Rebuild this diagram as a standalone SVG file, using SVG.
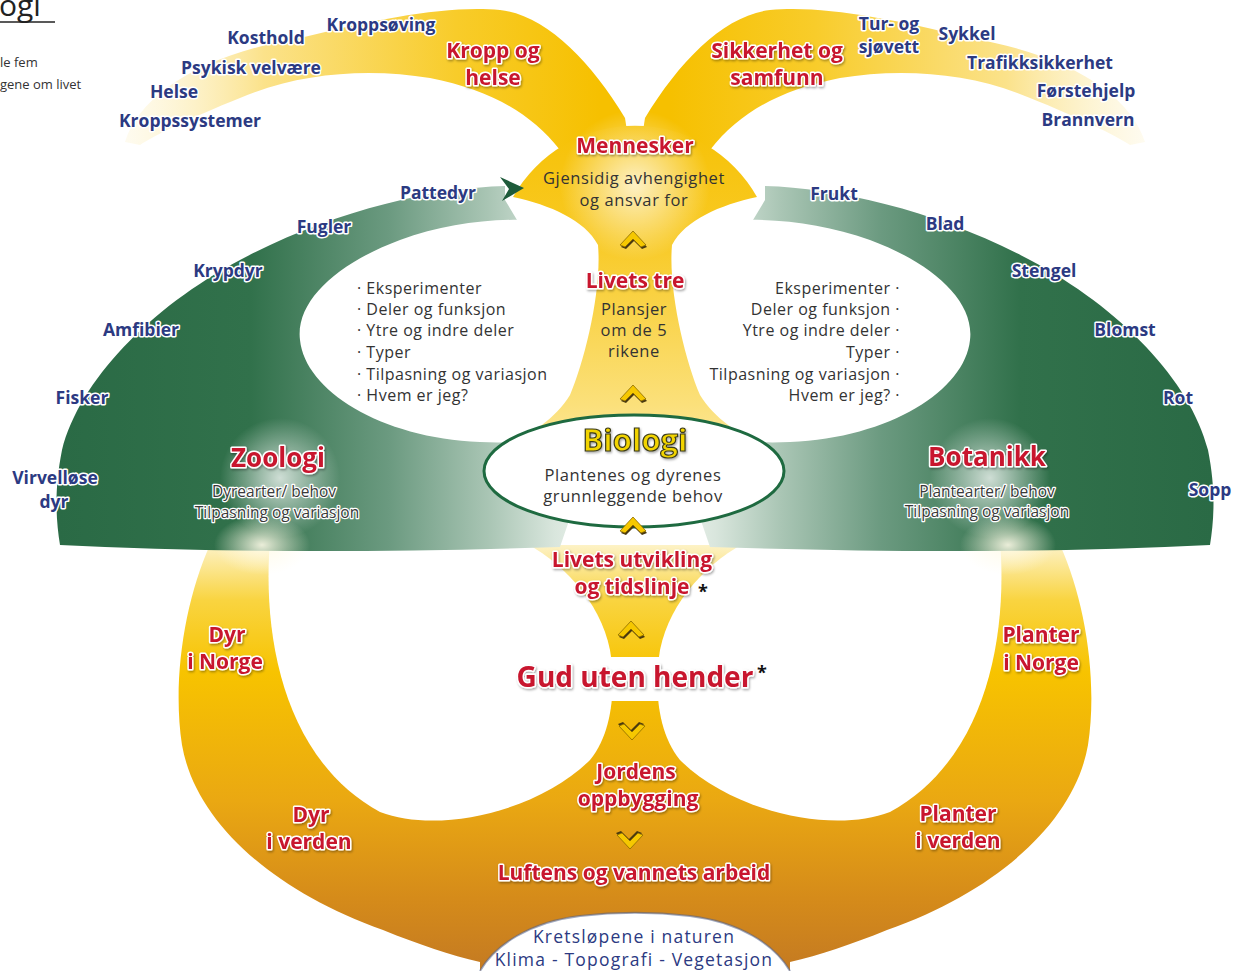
<svg xmlns="http://www.w3.org/2000/svg" xmlns:xlink="http://www.w3.org/1999/xlink" width="1235" height="971" viewBox="0 0 1235 971">
<defs>
<style>
text{font-family:"Open Sans","Noto Sans",sans-serif}
.blue{fill:#2c3a82;font-weight:bold;font-size:17.5px;text-anchor:middle;stroke:#fff;stroke-width:3;paint-order:stroke;stroke-linejoin:round}
.red{fill:#c8162e;font-weight:bold;font-size:21px;text-anchor:middle;stroke:#fff;stroke-width:3;paint-order:stroke;stroke-linejoin:round;filter:url(#sh)}
.sub{fill:#333;font-size:16.5px;letter-spacing:0.6px;text-anchor:middle}
.emb{fill:#3a3a3a;font-size:15.5px;text-anchor:middle;stroke:#fff;stroke-width:2.5;paint-order:stroke;stroke-linejoin:round}
.list{fill:#333;font-size:16px;letter-spacing:0.5px}
.nav{fill:#2c3a82;font-size:17.5px;letter-spacing:1.2px;text-anchor:middle}
.ast{fill:#111;font-weight:bold;font-size:18px}
</style>
<filter id="sh" x="-10%" y="-20%" width="130%" height="160%"><feDropShadow dx="1" dy="1.5" stdDeviation="1" flood-color="#000" flood-opacity="0.35"/></filter>
<linearGradient id="arcG" gradientUnits="userSpaceOnUse" x1="120" y1="0" x2="600" y2="0">
<stop offset="0" stop-color="#fdf4d2" stop-opacity="0.3"/><stop offset="0.3" stop-color="#fbe28a"/><stop offset="0.7" stop-color="#f8cc2a"/><stop offset="1" stop-color="#f6c000"/></linearGradient>
<linearGradient id="grnG" gradientUnits="userSpaceOnUse" x1="57" y1="0" x2="610" y2="0">
<stop offset="0" stop-color="#2a6a45"/><stop offset="0.35" stop-color="#31714b"/><stop offset="0.6" stop-color="#6b9a80"/><stop offset="0.78" stop-color="#a9c5b4"/><stop offset="0.9" stop-color="#d9e6dd"/><stop offset="1" stop-color="#f3f7f3"/></linearGradient>
<linearGradient id="botG" gradientUnits="userSpaceOnUse" x1="0" y1="545" x2="0" y2="971">
<stop offset="0" stop-color="#fdf2c6"/><stop offset="0.13" stop-color="#f9d440"/><stop offset="0.3" stop-color="#f7c300"/><stop offset="0.6" stop-color="#eaa812"/><stop offset="0.83" stop-color="#d58b1a"/><stop offset="1" stop-color="#c47a22"/></linearGradient>
<linearGradient id="colG" gradientUnits="userSpaceOnUse" x1="0" y1="100" x2="0" y2="480">
<stop offset="0" stop-color="#f6c000"/><stop offset="0.35" stop-color="#f8c922"/><stop offset="0.8" stop-color="#fbe07a"/><stop offset="1" stop-color="#fcecb0"/></linearGradient>
<radialGradient id="glow"><stop offset="0" stop-color="#fff" stop-opacity="0.75"/><stop offset="1" stop-color="#fff" stop-opacity="0"/></radialGradient>
<radialGradient id="glowY"><stop offset="0" stop-color="#fffbe8" stop-opacity="0.9"/><stop offset="1" stop-color="#fffbe8" stop-opacity="0"/></radialGradient>
<path id="arcL" d="M125,142 C140,95 200,55 300,38 C380,18 450,5 500,10 C545,15 590,60 625,118 L630,150 L560,150 C530,112 490,90 430,78 C370,68 300,72 240,98 C190,118 155,135 140,145 Z"/>
<path id="grnL" d="M505,186 C430,188 330,212 240,260 C150,308 80,380 62,450 C54,490 56,520 60,545 Q280,556 560,547 L600,430 L600,300 L520,225 L505,200 Z"/>
<path id="whtL" d="M615,230 C540,215 470,215 400,240 C340,262 295,300 300,340 C305,390 380,438 480,442 C550,445 600,430 615,410 Z"/>
<path id="intL" d="M270,540 C262,640 285,760 380,812 C440,835 540,810 590,760 C615,730 615,680 610,650 C600,600 560,560 520,540 Z"/>
<g id="chev"><path d="M-13,7 L0,-7 L13,7 L8,9 L0,1 L-8,9 Z" fill="#4a3a10" transform="translate(1,2)"/><path d="M-13,7 L0,-7 L13,7 L8,9 L0,1 L-8,9 Z" fill="#f6c800" stroke="#8a6a00" stroke-width="0.8"/></g>
</defs>
<rect width="1235" height="971" fill="#fff"/>
<g id="shapes">
<use href="#arcL" fill="url(#arcG)"/>
<use href="#arcL" fill="url(#arcG)" transform="translate(1270,0) scale(-1,1)"/>
<path d="M210,545 C185,600 172,680 182,745 C195,820 270,890 383,930 C420,945 450,955 480,962 L480,971 L790,971 L790,962 C820,955 850,945 887,930 C1000,890 1075,820 1088,745 C1098,680 1085,600 1060,545 Z" fill="url(#botG)"/>
<use href="#intL" fill="#fff"/>
<use href="#intL" fill="#fff" transform="translate(1270,0) scale(-1,1)"/>
<rect x="598" y="657" width="74" height="44" fill="#fff"/>
<use href="#grnL" fill="url(#grnG)"/>
<use href="#grnL" fill="url(#grnG)" transform="translate(1270,0) scale(-1,1)"/>
<use href="#whtL" fill="#fff"/>
<use href="#whtL" fill="#fff" transform="translate(1270,0) scale(-1,1)"/>
<path d="M513,197 A140,140 0 0 1 757,197 C720,205 685,220 672,245 C668,290 685,360 700,395 C715,420 740,432 755,445 L755,480 L515,480 L515,445 C530,432 555,420 570,395 C585,360 602,290 598,245 C585,220 550,205 513,197 Z" fill="url(#colG)"/>
<circle cx="635" cy="185" r="75" fill="url(#glow)"/>
<circle cx="280" cy="478" r="60" fill="url(#glow)"/>
<circle cx="990" cy="478" r="60" fill="url(#glow)"/>
<ellipse cx="262" cy="545" rx="48" ry="30" fill="url(#glowY)"/>
<ellipse cx="1008" cy="545" rx="48" ry="30" fill="url(#glowY)"/>
<path d="M480,971 C495,945 530,922 580,916 C615,912 655,912 690,916 C740,922 775,945 790,971 Z" fill="#fff"/>
<path d="M480,971 C495,945 530,922 580,916 C615,912 655,912 690,916 C740,922 775,945 790,971" fill="none" stroke="#50628f" stroke-width="2" stroke-opacity="0.55"/>
</g>
<g id="title">
<text x="-1" y="16" style="font-size:30px;fill:#222">ogi</text>
<line x1="0" y1="22" x2="55" y2="22" stroke="#222" stroke-width="1.5"/>
<text x="0" y="67" style="font-size:13px;fill:#333">le fem</text>
<text x="0" y="89" style="font-size:13px;fill:#333">gene om livet</text>
</g>
<g id="kropp-og-helse">
<text class="red" x="493" y="58">Kropp og</text><text class="red" x="493" y="85">helse</text>
<text class="blue" x="266" y="44">Kosthold</text>
<text class="blue" x="381" y="31">Kroppsøving</text>
<text class="blue" x="251" y="74">Psykisk velvære</text>
<text class="blue" x="174" y="98">Helse</text>
<text class="blue" x="190" y="127">Kroppssystemer</text>
</g>
<g id="sikkerhet-og-samfunn">
<text class="red" x="777" y="58">Sikkerhet og</text><text class="red" x="777" y="85">samfunn</text>
<text class="blue" x="889" y="30">Tur- og</text><text class="blue" x="889" y="53">sjøvett</text>
<text class="blue" x="967" y="40">Sykkel</text>
<text class="blue" x="1040" y="69">Trafikksikkerhet</text>
<text class="blue" x="1086" y="97">Førstehjelp</text>
<text class="blue" x="1088" y="126">Brannvern</text>
</g>
<g id="mennesker">
<text class="red" x="635" y="153">Mennesker</text>
<text class="sub" x="634" y="184">Gjensidig avhengighet</text>
<text class="sub" x="634" y="206">og ansvar for</text>
</g>
<g id="livets-tre">
<text class="red" x="635" y="288">Livets tre</text>
<text class="sub" x="634" y="315">Plansjer</text>
<text class="sub" x="634" y="336">om de 5</text>
<text class="sub" x="634" y="357">rikene</text>
</g>
<g id="zoologi">
<text class="red" x="278" y="467" style="font-size:26px">Zoologi</text>
<text class="emb" x="274" y="497">Dyrearter/ behov</text>
<text class="emb" x="277" y="518">Tilpasning og variasjon</text>
<text class="blue" x="438" y="199">Pattedyr</text>
<text class="blue" x="324" y="233">Fugler</text>
<text class="blue" x="228" y="277">Krypdyr</text>
<text class="blue" x="141" y="336">Amfibier</text>
<text class="blue" x="82" y="404">Fisker</text>
<text class="blue" x="55" y="484">Virvelløse</text>
<text class="blue" x="54" y="508">dyr</text>
<g class="list">
<text x="357" y="294">· Eksperimenter</text>
<text x="357" y="315">· Deler og funksjon</text>
<text x="357" y="336">· Ytre og indre deler</text>
<text x="357" y="358">· Typer</text>
<text x="357" y="380">· Tilpasning og variasjon</text>
<text x="357" y="401">· Hvem er jeg?</text>
</g>
</g>
<g id="botanikk">
<text class="red" x="987" y="466" style="font-size:26px">Botanikk</text>
<text class="emb" x="987" y="497">Plantearter/ behov</text>
<text class="emb" x="987" y="517">Tilpasning og variasjon</text>
<text class="blue" x="834" y="200">Frukt</text>
<text class="blue" x="945" y="230">Blad</text>
<text class="blue" x="1044" y="277">Stengel</text>
<text class="blue" x="1125" y="336">Blomst</text>
<text class="blue" x="1178" y="404">Rot</text>
<text class="blue" x="1210" y="496">Sopp</text>
<g class="list" style="text-anchor:end">
<text x="900" y="294">Eksperimenter ·</text>
<text x="900" y="315">Deler og funksjon ·</text>
<text x="900" y="336">Ytre og indre deler ·</text>
<text x="900" y="358">Typer ·</text>
<text x="900" y="380">Tilpasning og variasjon ·</text>
<text x="900" y="401">Hvem er jeg? ·</text>
</g>
</g>
<g id="biologi">
<ellipse cx="634" cy="471" rx="150" ry="56" fill="#fff" stroke="#1e6a40" stroke-width="3"/>
<text x="635" y="451" style="font-size:31px;font-weight:bold;fill:#f2d400;stroke:#3a3a1a;stroke-width:1.2;text-anchor:middle;filter:url(#sh)">Biologi</text>
<text class="sub" x="633" y="481">Plantenes og dyrenes</text>
<text class="sub" x="633" y="502">grunnleggende behov</text>
</g>
<g id="livets-utvikling">
<text class="red" x="632" y="567">Livets utvikling</text>
<text class="red" x="632" y="594">og tidslinje</text>
<text class="ast" x="698" y="598">*</text>
</g>
<g id="gud-uten-hender">
<text class="red" x="635" y="687" style="font-size:28px">Gud uten hender</text>
<text class="ast" x="757" y="679">*</text>
</g>
<g id="jordens-oppbygging">
<text class="red" x="636" y="779">Jordens</text>
<text class="red" x="638" y="806">oppbygging</text>
</g>
<g id="luftens-og-vannets-arbeid">
<text class="red" x="634" y="880">Luftens og vannets arbeid</text>
</g>
<g id="kretslopene">
<text class="nav" x="634" y="943">Kretsløpene i naturen</text>
<text class="nav" x="634" y="966">Klima - Topografi - Vegetasjon</text>
</g>
<g id="dyr-ring">
<text class="red" x="227" y="642">Dyr</text><text class="red" x="225" y="669">i Norge</text>
<text class="red" x="311" y="822">Dyr</text><text class="red" x="309" y="849">i verden</text>
</g>
<g id="planter-ring">
<text class="red" x="1041" y="642">Planter</text><text class="red" x="1041" y="670">i Norge</text>
<text class="red" x="958" y="821">Planter</text><text class="red" x="958" y="848">i verden</text>
</g>
<g id="connectors">
<polygon points="500,177 524,188 502,201 509,189" fill="#1e5b3a"/>
<use href="#chev" transform="translate(633,238)"/>
<use href="#chev" transform="translate(633,392)"/>
<use href="#chev" transform="translate(633,524)"/>
<use href="#chev" transform="translate(631,628)"/>
<use href="#chev" transform="translate(632,733) rotate(180)"/>
<use href="#chev" transform="translate(630,842) rotate(180)"/>
</g>
</svg>
